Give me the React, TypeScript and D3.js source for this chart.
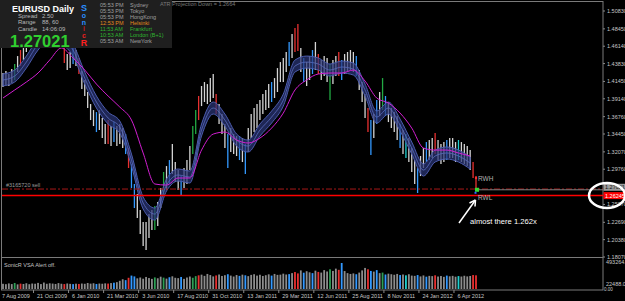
import React from 'react';
import * as d3 from 'd3';

const W = 625;
const H = 301;

const priceTicks = [1.5083, 1.4845, 1.4614, 1.4383, 1.4145, 1.3914, 1.3676, 1.3445, 1.3207, 1.2976, 1.2507, 1.2269, 1.2038, 1.1807];
const dateLabels = ['7 Aug 2009', '21 Oct 2009', '6 Jan 2010', '21 Mar 2010', '3 Jun 2010', '17 Aug 2010', '31 Oct 2010', '13 Jan 2011', '29 Mar 2011', '12 Jun 2011', '25 Aug 2011', '8 Nov 2011', '24 Jan 2012', '6 Apr 2012'];

const highs = [
  1.4257, 1.4284, 1.4244, 1.4310, 1.4377, 1.4483, 1.4563, 1.4643, 1.4750, 1.4830,
  1.4936, 1.5016, 1.5069, 1.5096, 1.5120, 1.5144, 1.5130, 1.5110, 1.5080, 1.5040,
  1.4936, 1.4603, 1.4510, 1.4537, 1.4590, 1.4563, 1.4457, 1.4284, 1.4164, 1.4004,
  1.3844, 1.3764, 1.3737, 1.3764, 1.3658, 1.3578, 1.3631, 1.3551, 1.3604, 1.3551,
  1.3578, 1.3524, 1.3444, 1.3258, 1.3045, 1.2779, 1.2645, 1.2432, 1.2273, 1.2273,
  1.2379, 1.2432, 1.2486, 1.2539, 1.2725, 1.2939, 1.3018, 1.3098, 1.3311, 1.3072,
  1.2965, 1.2885, 1.2992, 1.3098, 1.3285, 1.3551, 1.3764, 1.3951, 1.4084, 1.4137,
  1.4110, 1.4190, 1.4244, 1.3977, 1.3844, 1.3711, 1.3578, 1.3444, 1.3524, 1.3444,
  1.3418, 1.3418, 1.3391, 1.3311, 1.3524, 1.3711, 1.3791, 1.3844, 1.3897, 1.3977,
  1.4031, 1.4110, 1.4137, 1.4190, 1.4323, 1.4403, 1.4457, 1.4537, 1.4670, 1.4776,
  1.4856, 1.4909, 1.4590, 1.4457, 1.4403, 1.4483, 1.4563, 1.4670, 1.4510, 1.4430,
  1.4483, 1.4457, 1.4377, 1.4430, 1.4483, 1.4537, 1.4430, 1.4510, 1.4537, 1.4563,
  1.4537, 1.4483, 1.4297, 1.4137, 1.3977, 1.3791, 1.3631, 1.3711, 1.3897, 1.4004,
  1.4190, 1.3951, 1.3871, 1.3791, 1.3737, 1.3684, 1.3578, 1.3498, 1.3444, 1.3391,
  1.3258, 1.3098, 1.2992, 1.3152, 1.3258, 1.3338, 1.3365, 1.3391, 1.3458, 1.3365,
  1.3311, 1.3338, 1.3365, 1.3391, 1.3391, 1.3338, 1.3365, 1.3338, 1.3311, 1.3285,
  1.3231, 1.3072, 1.2885,
];

const lows = [
  1.4070, 1.4097, 1.4084, 1.4124, 1.4164, 1.4270, 1.4350, 1.4430, 1.4537, 1.4616,
  1.4723, 1.4803, 1.4856, 1.4883, 1.4930, 1.4960, 1.4950, 1.4900, 1.4880, 1.4800,
  1.4670, 1.4390, 1.4297, 1.4323, 1.4377, 1.4350, 1.4244, 1.4044, 1.3951, 1.3791,
  1.3631, 1.3551, 1.3471, 1.3498, 1.3391, 1.3311, 1.3311, 1.3285, 1.3338, 1.3285,
  1.3311, 1.3258, 1.3178, 1.2992, 1.2725, 1.2459, 1.2326, 1.2113, 1.1953, 1.1900,
  1.2060, 1.2166, 1.2166, 1.2219, 1.2459, 1.2619, 1.2699, 1.2779, 1.2912, 1.2805,
  1.2699, 1.2619, 1.2725, 1.2779, 1.2965, 1.3178, 1.3444, 1.3631, 1.3817, 1.3871,
  1.3844, 1.3871, 1.3924, 1.3711, 1.3578, 1.3444, 1.3258, 1.2992, 1.3205, 1.3178,
  1.3152, 1.3098, 1.3072, 1.2912, 1.3205, 1.3391, 1.3471, 1.3524, 1.3631, 1.3711,
  1.3764, 1.3791, 1.3871, 1.3924, 1.4004, 1.4137, 1.4137, 1.4270, 1.4350, 1.4457,
  1.4537, 1.4550, 1.4270, 1.4137, 1.4084, 1.4164, 1.4244, 1.4297, 1.4244, 1.4164,
  1.4217, 1.4137, 1.3897, 1.4110, 1.4217, 1.4217, 1.4164, 1.4244, 1.4270, 1.4297,
  1.4270, 1.4217, 1.4031, 1.3871, 1.3658, 1.3471, 1.3165, 1.3391, 1.3578, 1.3684,
  1.3764, 1.3684, 1.3604, 1.3524, 1.3471, 1.3365, 1.3258, 1.3178, 1.3125, 1.3072,
  1.2939, 1.2779, 1.2659, 1.2885, 1.2992, 1.3072, 1.3098, 1.3125, 1.3178, 1.3098,
  1.3045, 1.3072, 1.3098, 1.3125, 1.3125, 1.3072, 1.3098, 1.3072, 1.3045, 1.3018,
  1.2965, 1.2859, 1.2686,
];

// volume in thousands
const volumes = [
  95, 88, 102, 90, 110, 85, 98, 92, 105, 88, 100, 96, 112, 90, 118, 95, 104, 99, 92, 108,
  96, 90, 101, 94, 89, 97, 92, 100, 95, 110, 98, 105, 92, 100, 96, 103, 99, 108, 115, 125,
  150, 178, 162, 205, 245, 230, 195, 210, 188, 220, 200, 185, 212, 196, 225, 208, 190, 215, 232, 205,
  198, 220, 185, 210, 228, 205, 235, 250,
  262, 240, 275, 255, 230, 248, 265, 238, 252, 270, 245, 228, 255, 240, 262, 250, 235, 258, 270, 245,
  260, 238, 252, 268, 245, 275, 258, 262, 280, 265, 272, 290,
  310, 285, 340, 298, 325, 305, 290, 335, 312, 300, 345, 320, 360, 330, 372, 350, 475, 328, 290, 275,
  285, 270,
  300, 340, 385, 360, 330, 318, 345, 290, 300, 265, 280, 270, 260, 275, 255, 265, 250, 270, 245, 240,
  255, 230, 248, 225, 240, 235, 250, 228, 238, 222, 245, 232, 240, 225, 236, 228, 242, 230, 238, 255,
  250,
];

// SonicR dragon (mid) and slow MA, one value every 4 bars
const dragon = [1.4164, 1.4217, 1.4403, 1.4643, 1.4776, 1.4723, 1.4563, 1.4190, 1.3871, 1.3658, 1.3538, 1.3098, 1.2526, 1.2379, 1.2765, 1.2899, 1.2872, 1.3498, 1.3791, 1.3631, 1.3365, 1.3285, 1.3498, 1.3671, 1.3897, 1.4350, 1.4403, 1.4377, 1.4297, 1.4337, 1.4310, 1.4031, 1.3671, 1.3791, 1.3564, 1.3258, 1.2965, 1.3152, 1.3192, 1.3152, 1.3058];
const slowMa = [1.3924, 1.4031, 1.4137, 1.4257, 1.4430, 1.4590, 1.4457, 1.4297, 1.4110, 1.3951, 1.3804, 1.3631, 1.3192, 1.2779, 1.2765, 1.2859, 1.2859, 1.3231, 1.3444, 1.3471, 1.3365, 1.3325, 1.3391, 1.3524, 1.3724, 1.4031, 1.4164, 1.4244, 1.4257, 1.4257, 1.4297, 1.4150, 1.3924, 1.3857, 1.3724, 1.3524, 1.3258, 1.3231, 1.3231, 1.3192, 1.3152];

// VSA signal bars: [bar index, type]
const signals: [number, string][] = [
  [4, 'g'], [6, 'r'], [21, 'r'], [24, 'b'], [26, 'r'], [32, 'b'], [36, 'r'], [38, 'b'], [42, 'b'], [43, 'r'],
  [44, 'b'], [45, 'b'], [52, 'g'], [55, 'g'], [57, 'b'], [61, 'b'], [65, 'g'], [66, 'g'], [67, 'r'], [73, 'r'],
  [77, 'b'], [81, 'b'], [83, 'b'], [92, 'b'], [98, 'b'], [100, 'r'], [101, 'r'], [103, 'b'], [106, 'b'], [108, 'r'],
  [112, 'g'], [115, 'r'], [116, 'b'], [121, 'b'], [125, 'r'], [126, 'b'], [128, 'b'], [130, 'g'], [131, 'b'], [136, 'b'],
  [138, 'c'], [142, 'b'], [145, 'b'], [148, 'r'], [152, 'b'], [156, 'c'], [161, 'r'], [162, 'r'],
];

const sessions = [
  { time: '05:53 PM', city: 'Sydney', color: '#a0a0a0' },
  { time: '05:53 PM', city: 'Tokyo', color: '#a0a0a0' },
  { time: '05:53 PM', city: 'HongKong', color: '#a0a0a0' },
  { time: '12:53 PM', city: 'Helsinki', color: '#e08a1e' },
  { time: '11:53 AM', city: 'Frankfurt', color: '#2fb52f' },
  { time: '10:53 AM', city: 'London  (B+1)', color: '#2fb52f' },
  { time: '05:53 AM', city: 'NewYork', color: '#a0a0a0' },
];

const bid = 1.27021;
const orderPrice = 1.2712;
const targetPrice = 1.26245;
const rwhPrice = 1.2859;

const F = 'Liberation Sans, Arial, sans-serif';

const App = () => {
  const last = highs.length - 1;
  const x = d3.scaleLinear().domain([0, last]).range([3, 476]);
  const y = d3.scaleLinear().domain([1.1807, 1.5083]).range([257, 11]);
  const yv = d3.scaleLinear().domain([0, 493.2649]).range([289, 262]);

  const sig = new Map(signals);
  const candleColor = d3.scaleOrdinal<string, string>().domain(['n', 'b', 'r', 'g', 'c']).range(['#d4d4d4', '#3399ff', '#e83030', '#22aa44', '#20d0d0']);
  const volColor = d3.scaleOrdinal<string, string>().domain(['n', 'b', 'r', 'g', 'c']).range(['#8c8c8c', '#3399ff', '#e83030', '#2e9e55', '#20d0d0']);

  const band = d3.area<number>()
    .x((_, k) => x(k * 4))
    .y0((d) => y(d) - 6)
    .y1((d) => y(d) + 6)
    .curve(d3.curveMonotoneX);
  const mid = d3.line<number>().x((_, k) => x(k * 4)).y((d) => y(d)).curve(d3.curveMonotoneX);

  const sonic = [
    { ch: 'S', c: '#2b8fff', y: 10.5, s: 9 },
    { ch: 'o', c: '#2b8fff', y: 17.5, s: 7 },
    { ch: 'n', c: '#2b8fff', y: 24.5, s: 7 },
    { ch: 'i', c: '#c02020', y: 31, s: 7 },
    { ch: 'c', c: '#e82020', y: 37.5, s: 7 },
    { ch: 'R', c: '#ff2020', y: 46, s: 9 },
  ];

  return (
    <svg width={W} height={H} style={{ position: 'fixed', left: 0, top: 0, display: 'block' }} fontFamily={F}>
      <defs>
        <clipPath id="main">
          <rect x={2} y={2} width={601} height={255} />
        </clipPath>
      </defs>
      <rect width={W} height={H} fill="#000" />

      {/* frame */}
      <rect x={1.5} y={1.5} width={601.5} height={288.5} fill="none" stroke="#7a7a7a" />
      <line x1={1.5} x2={603} y1={257.5} y2={257.5} stroke="#7a7a7a" />

      {/* volume */}
      {volumes.map((v, i) => (
        <rect key={'v' + i} x={x(i) - 0.9} y={yv(v)} width={1.8} height={yv(0) - yv(v)} fill={volColor(sig.get(i) || 'n')} />
      ))}

      <g clipPath="url(#main)">
        {/* price bars */}
        {highs.map((h, i) => (
          <line key={'c' + i} x1={x(i)} x2={x(i)} y1={y(h)} y2={y(lows[i])} stroke={candleColor(sig.get(i) || 'n')} strokeWidth={1.3} />
        ))}
        {/* dragon */}
        <path d={band(dragon) || ''} fill="#2a3576" fillOpacity={0.72} stroke="#4c5cad" strokeWidth={1} />
        <path d={mid(dragon) || ''} fill="none" stroke="#5a6bbd" strokeWidth={1} strokeOpacity={0.8} />
        <path d={mid(slowMa) || ''} fill="none" stroke="#d21ed2" strokeWidth={1} />

        {/* order & level lines */}
        <line x1={2} x2={603} y1={y(orderPrice)} y2={y(orderPrice)} stroke="#a81818" strokeDasharray="6,2,2,2" />
        <line x1={x(last)} x2={603} y1={y(bid)} y2={y(bid)} stroke="#808080" />
        <line x1={2} x2={603} y1={y(targetPrice)} y2={y(targetPrice)} stroke="#ff0000" strokeWidth={1.5} />
        <text x={6} y={y(orderPrice) - 2} fontSize={5.5} fill="#9a9a9a">#3165720 sell</text>

        {/* RWH / RWL */}
        <circle cx={x(last)} cy={y(rwhPrice)} r={1.2} fill="#ff3030" />
        <text x={x(last) + 2} y={y(rwhPrice) + 3} fontSize={6.5} fill="#b0b0b0">RWH</text>
        <rect x={x(last) - 1} y={y(bid) - 2} width={4} height={4} fill="#33dd33" />
        <rect x={x(last) - 1.5} y={y(bid) + 2} width={2} height={2} fill="#3366ff" />
        <text x={x(last) + 2} y={y(targetPrice) + 4} fontSize={6.5} fill="#b0b0b0">RWL</text>
      </g>

      {/* right axis */}
      {priceTicks.map((t) => (
        <g key={'t' + t}>
          <line x1={603} x2={605} y1={y(t)} y2={y(t)} stroke="#8a8a8a" />
          <text x={607} y={y(t) + 2} fontSize={5.5} fill="#c8c8c8">{t.toFixed(5)}</text>
        </g>
      ))}
      <rect x={603.5} y={y(bid) - 6} width={22} height={7} fill="#9c9c9c" />
      <text x={605} y={y(bid) - 0.5} fontSize={5.5} fill="#111">{bid.toFixed(5)}</text>
      <rect x={603.5} y={y(targetPrice) - 3.5} width={22} height={7} fill="#ff0000" />
      <text x={605} y={y(targetPrice) + 2} fontSize={5.5} fill="#fff">{targetPrice.toFixed(5)}</text>
      <text x={606} y={264} fontSize={5.5} fill="#c8c8c8">493264.9</text>
      <text x={606} y={286} fontSize={5.5} fill="#c8c8c8">22488.0</text>
      <text x={604} y={291} fontSize={4.5} fill="#c8c8c8">0.00</text>

      {/* bottom axis */}
      {dateLabels.map((d, k) => (
        <g key={d}>
          {k > 0 && <line x1={x(k * 12) - 4.5} x2={x(k * 12) - 4.5} y1={290} y2={293} stroke="#8a8a8a" />}
          <text x={x(k * 12) - 1} y={298} fontSize={5.5} fill="#c8c8c8">{d}</text>
        </g>
      ))}
      <text x={4} y={267} fontSize={5.5} fill="#c0c0c0">SonicR VSA    Alert off.</text>

      {/* info panel */}
      <rect x={0} y={0} width={172} height={48} fill="#1f1f1f" />
      <text x={12} y={11.5} fontSize={9} fontWeight="bold" fill="#ffffff">EURUSD  Daily</text>
      <text x={18} y={17.5} fontSize={6} fill="#b8b8b8">Spread</text>
      <text x={42} y={17.5} fontSize={6} fill="#b8b8b8">2.50</text>
      <text x={18} y={24} fontSize={6} fill="#b8b8b8">Range</text>
      <text x={42} y={24} fontSize={6} fill="#b8b8b8">88, 60</text>
      <text x={18} y={30.5} fontSize={6} fill="#b8b8b8">Candle</text>
      <text x={42} y={30.5} fontSize={6} fill="#b8b8b8">14:06:09</text>
      <text x={10} y={46.5} fontSize={16.5} fontWeight="bold" fill="#2fcf2f">{bid.toFixed(5)}</text>
      {sonic.map((s) => (
        <text key={s.ch + s.y} x={84} y={s.y} fontSize={s.s} fontWeight="bold" textAnchor="middle" fill={s.c}>{s.ch}</text>
      ))}
      {sessions.map((s, k) => (
        <g key={s.city}>
          <text x={100} y={7 + k * 6} fontSize={5.5} fill={s.color}>{s.time}</text>
          <text x={130} y={7 + k * 6} fontSize={5.5} fill={s.color}>{s.city}</text>
        </g>
      ))}
      <text x={160} y={6} fontSize={5.5} fill="#7a7a7a">ATR Projection Down = 1.2664</text>

      {/* annotations */}
      <ellipse cx={607} cy={195.5} rx={18} ry={12.5} fill="none" stroke="#ffffff" strokeWidth={2.5} />
      <line x1={459} y1={223} x2={475.5} y2={200} stroke="#ffffff" strokeWidth={1.5} />
      <path d="M475.5,200 L469.5,203 M475.5,200 L475,206.5" stroke="#ffffff" strokeWidth={1.5} fill="none" />
      <text x={470} y={224} fontSize={7.6} fill="#ffffff">almost there 1.262x</text>
    </svg>
  );
};

export default App;
